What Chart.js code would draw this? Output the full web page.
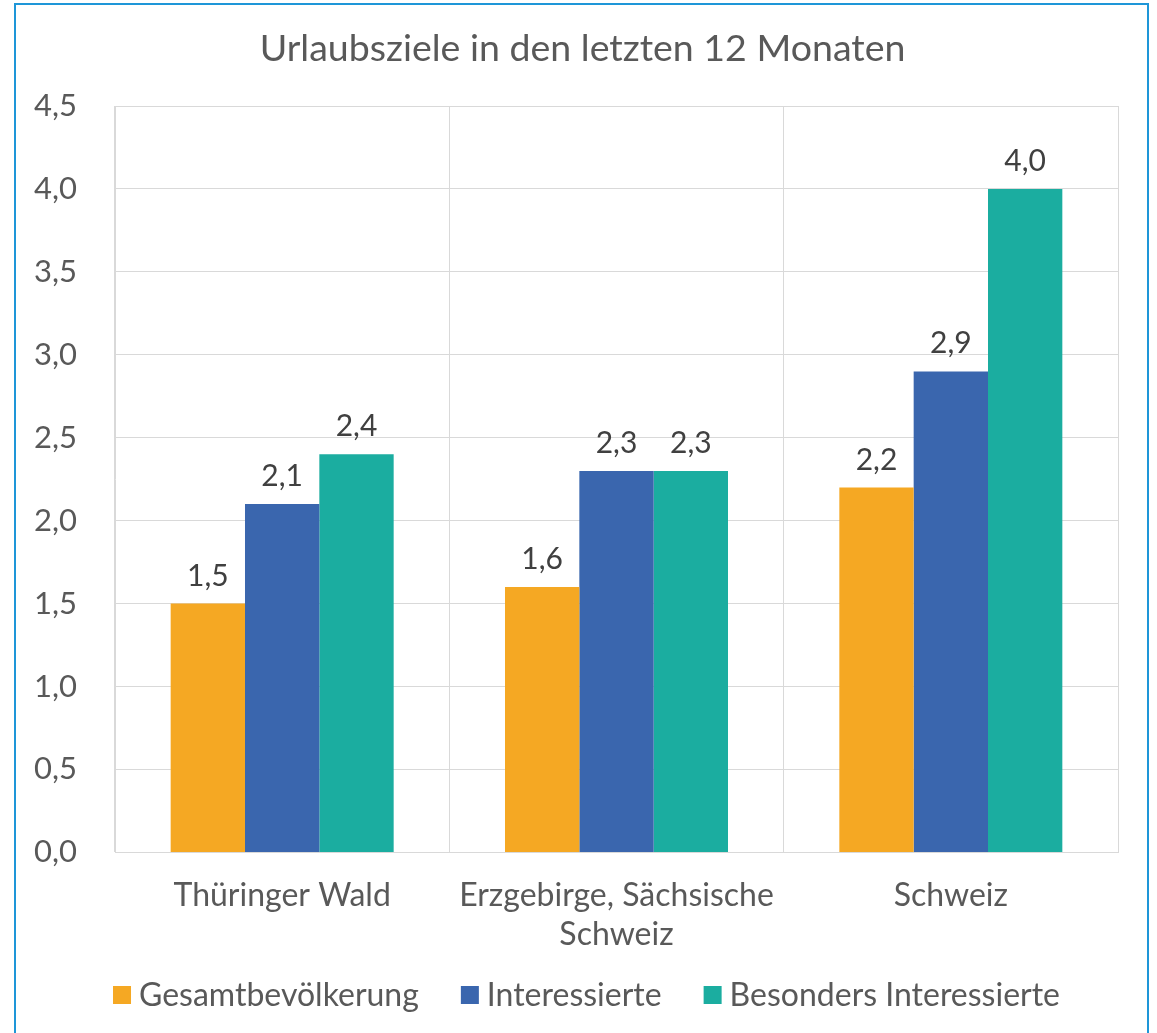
<!DOCTYPE html>
<html>
<head>
<meta charset="utf-8">
<script src="https://cdn.jsdelivr.net/npm/chart.js@4"></script>
<style>
    body { margin: 0; background: #fff; }
    #wrap { position: relative; width: 1157px; height: 1033px; overflow: hidden; }
    #frame { position: absolute; left: 14px; top: 3px; width: 1131px; height: 1060px; border: 2px solid #1e96d8; }
    #chart { position: absolute; left: 0; top: 0; }
</style>
</head>
<body>
<div id="wrap">
    <div id="frame"></div>
    <canvas id="chart" width="1157" height="1033"></canvas>
</div>
<script>
const chartTitle = 'Urlaubsziele in den letzten 12 Monaten';
const categories = [
    'Thüringer Wald',
    ['Erzgebirge, Sächsische', 'Schweiz'],
    'Schweiz',
];
const seriesNames = ['Gesamtbevölkerung', 'Interessierte', 'Besonders Interessierte'];
const gesamt = [1.5, 1.6, 2.2];
const interessierte = [2.1, 2.3, 2.9];
const besonders = [2.4, 2.3, 4.0];
const colors = ['#f5a823', '#3a66ae', '#1bada0'];

const fmt = v => Number(v).toFixed(1).replace('.', ',');

// draws the value above each bar
const valueLabels = {
    id: 'valueLabels',
    afterDatasetsDraw(chart) {
        const ctx = chart.ctx;
        ctx.save();
        ctx.font = '30px Lato';
        ctx.fillStyle = '#404040';
        ctx.textAlign = 'center';
        ctx.textBaseline = 'alphabetic';
        chart.data.datasets.forEach((ds, i) => {
            chart.getDatasetMeta(i).data.forEach((bar, j) => {
                ctx.fillText(fmt(ds.data[j]), bar.x, bar.y - 18);
            });
        });
        ctx.restore();
    }
};

// title and legend drawn by hand so they sit where the original has them
const titleAndLegend = {
    id: 'titleAndLegend',
    afterDraw(chart) {
        const ctx = chart.ctx;
        ctx.save();
        ctx.font = '37.5px Lato';
        ctx.fillStyle = '#595959';
        ctx.textAlign = 'center';
        ctx.textBaseline = 'middle';
        ctx.fillText(chartTitle, 582.5, 48.5);

        const box = 18, gap = 8, spacing = 42, cy = 995;
        ctx.font = '32px Lato';
        ctx.textAlign = 'left';
        const widths = seriesNames.map(n => box + gap + ctx.measureText(n).width);
        const total = widths.reduce((a, b) => a + b, 0) + spacing * (widths.length - 1);
        let x = 586.5 - total / 2;
        seriesNames.forEach((name, i) => {
            ctx.fillStyle = colors[i];
            ctx.fillRect(x, cy - box / 2, box, box);
            ctx.fillStyle = '#595959';
            ctx.fillText(name, x + box + gap, cy + 1);
            x += widths[i] + spacing;
        });
        ctx.restore();
    }
};

var data = {
    labels: categories,
    datasets: [gesamt, interessierte, besonders].map((vals, i) => ({
        label: seriesNames[i],
        data: vals,
        backgroundColor: colors[i],
        categoryPercentage: 0.667,
        barPercentage: 1.0,
    })),
};

new Chart(document.getElementById('chart'), {
    type: 'bar',
    data: data,
    plugins: [valueLabels, titleAndLegend],
    options: {
        responsive: false,
        animation: false,
        layout: {
            padding: { left: 25, right: 39, top: 106, bottom: 55.5 }
        },
        plugins: {
            tooltip: { enabled: false },
            legend: { display: false },
            title: { display: false },
        },
        scales: {
            x: {
                grid: { color: '#d9d9d9', drawTicks: false },
                border: { color: '#d9d9d9' },
                ticks: {
                    color: '#595959',
                    font: { family: 'Lato', size: 32, lineHeight: 1.22 },
                    padding: 23.5,
                    maxRotation: 0,
                },
            },
            y: {
                min: 0,
                max: 4.5,
                afterFit(axis) { axis.width = 90; },
                grid: { color: '#d9d9d9', drawTicks: false },
                border: { color: '#d9d9d9' },
                ticks: {
                    stepSize: 0.5,
                    color: '#595959',
                    font: { family: 'Lato', size: 31 },
                    padding: 38,
                    callback: v => fmt(v),
                },
            },
        },
    },
});
</script>
</body>
</html>
